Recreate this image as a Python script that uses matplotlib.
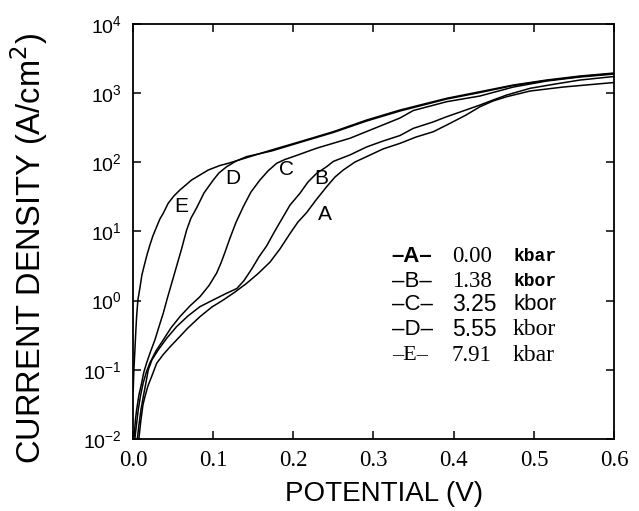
import numpy as np
import matplotlib.pyplot as plt
from matplotlib.ticker import LogLocator, NullLocator, FormatStrFormatter

# curves: potential (V) vs current density (A/cm^2)
xA = [0.0075, 0.0100, 0.0125, 0.0150, 0.0187, 0.0233, 0.0296, 0.0374, 0.0462, 0.0545, 0.0686,
      0.0836, 0.0985, 0.1126, 0.1272, 0.1418, 0.1559, 0.1709, 0.1834, 0.1958, 0.2058, 0.2167,
      0.2283, 0.2416, 0.2520, 0.2623, 0.2769, 0.2915, 0.3118, 0.3330, 0.3530, 0.3746, 0.3954,
      0.4154, 0.4328, 0.4491, 0.4661, 0.4952, 0.5367, 0.5784, 0.600]
jA = [0.0103, 0.0188, 0.0310, 0.0409, 0.0583, 0.0796, 0.124, 0.164, 0.214, 0.270, 0.403,
      0.586, 0.809, 1.02, 1.33, 1.78, 2.45, 3.6, 5.6, 9.3, 13.7, 18.8,
      28.5, 44.4, 61.3, 77.4, 101, 121, 156, 188, 232, 277, 366,
      483, 637, 771, 889, 1074, 1227, 1355, 1426]

xB = [0.0056, 0.0075, 0.0100, 0.0131, 0.0162, 0.0191, 0.0237, 0.0316, 0.0424, 0.0545, 0.0686,
      0.0836, 0.0998, 0.1169, 0.1297, 0.1385, 0.1484, 0.1572, 0.1668, 0.1771, 0.1875, 0.1958,
      0.2083, 0.2183, 0.2291, 0.2416, 0.2498, 0.2707, 0.2915, 0.3118, 0.3330, 0.3496, 0.3742,
      0.3913, 0.4116, 0.4328, 0.4491, 0.4661, 0.4952, 0.5264, 0.5576, 0.600]
jB = [0.0103, 0.0159, 0.0262, 0.0418, 0.0646, 0.0995, 0.139, 0.194, 0.288, 0.421, 0.600,
      0.818, 1.02, 1.28, 1.50, 1.95, 2.9, 4.3, 6.2, 10.2, 16.4, 24.0,
      35.7, 51.9, 69.4, 86.5, 103, 128, 167, 203, 244, 310, 383,
      457, 552, 674, 796, 940, 1175, 1355, 1549, 1742]

xC = [0.0025, 0.0044, 0.0066, 0.0094, 0.0128, 0.0168, 0.0212, 0.0287, 0.0378, 0.0474, 0.0586,
      0.0711, 0.0836, 0.0948, 0.1044, 0.1098, 0.1148, 0.1210, 0.1285, 0.1376, 0.1472, 0.1584,
      0.1684, 0.1792, 0.1896, 0.2000, 0.2291, 0.2707, 0.3330, 0.3496, 0.3913, 0.4328, 0.4744,
      0.5160, 0.5576, 0.600]
jC = [0.0103, 0.0159, 0.0262, 0.0418, 0.0646, 0.0931, 0.126, 0.187, 0.270, 0.403, 0.586,
      0.838, 1.14, 1.65, 2.5, 3.5, 5.0, 8.0, 13.5, 22.8, 37.2, 55.5,
      74.9, 96.8, 110, 121, 160, 223, 437, 561, 753, 910, 1227,
      1500, 1714, 1892]

xD = [0.0016, 0.0031, 0.0046, 0.0075, 0.0109, 0.0137, 0.0171, 0.0218, 0.0274, 0.0324, 0.0378,
      0.0430, 0.0483, 0.0524, 0.0565, 0.0607, 0.0636, 0.0670, 0.0723, 0.0795, 0.0886, 0.1002,
      0.1073, 0.1169, 0.1285, 0.1418, 0.1730, 0.2083, 0.2498, 0.2915, 0.3330, 0.3913, 0.4328,
      0.4744, 0.5160, 0.5576, 0.600]
jD = [0.0108, 0.0188, 0.0262, 0.0432, 0.0646, 0.0931, 0.126, 0.181, 0.270, 0.416, 0.656,
      1.09, 1.78, 2.6, 3.8, 5.6, 7.5, 10.5, 15.5, 22.0, 36.0, 55.5,
      70.2, 86.5, 104, 121, 146, 194, 270, 396, 552, 823, 1021,
      1291, 1524, 1742, 1923]

xE = [0.0004, 0.0012, 0.0025, 0.0037, 0.0046, 0.0062, 0.0087, 0.0112, 0.0143, 0.0175, 0.0212,
      0.0249, 0.0296, 0.0337, 0.0378, 0.0440, 0.0511, 0.0586, 0.0732, 0.0836, 0.0939, 0.1085,
      0.1189, 0.1481, 0.1730, 0.2083, 0.2498, 0.2915, 0.3330, 0.3913, 0.4328, 0.4744, 0.5160,
      0.5576, 0.600]
jE = [0.051, 0.0995, 0.194, 0.377, 0.586, 1.02, 1.52, 2.35, 3.28, 4.57, 6.38,
      8.61, 11.7, 15.2, 18.3, 25.6, 32.6, 39.8, 55.5, 65.6, 77.4, 90.0,
      96.8, 123, 151, 199, 277, 409, 570, 843, 1050, 1312, 1549,
      1770, 1955]

curve_names = ['A', 'B', 'C', 'D', 'E']
label_x = [0.2395, 0.2354, 0.1917, 0.125, 0.0607]
label_y = [17.4, 58.7, 77.5, 58.7, 22.8]

pressures = ['0.00', '1.38', '3.25', '5.55', '7.91']
units = ['kbar', 'kbor', 'kbor', 'kbor', 'kbar']

plt.rcParams['font.family'] = 'Liberation Sans'

fig = plt.figure(figsize=(6.39, 5.11), dpi=100)
ax = fig.add_axes([0.208, 0.141, 0.753, 0.812])

for xs, js in zip([xA, xB, xC, xD, xE], [jA, jB, jC, jD, jE]):
    ax.semilogy(xs, js, color='black', lw=1.1)

for name, lx, ly in zip(curve_names, label_x, label_y):
    ax.text(lx, ly, name, fontsize=15, ha='center', va='center', family='Liberation Sans')

# legend block, mixed fonts as in the scanned figure
row_y = [0.439, 0.379, 0.323, 0.263, 0.202]
tag_fonts = [('Liberation Sans', 'bold'), ('Liberation Sans', 'normal'), ('Liberation Sans', 'normal'),
             ('Liberation Sans', 'normal'), ('Liberation Serif', 'normal')]
num_fonts = ['Liberation Serif', 'Liberation Serif', 'Liberation Sans', 'Liberation Sans', 'Liberation Serif']
unit_fonts = [('Liberation Mono', 'bold', 13), ('Liberation Mono', 'bold', 13), ('Liberation Sans', 'normal', 16),
              ('Liberation Serif', 'normal', 17), ('Liberation Serif', 'normal', 17)]
for i in range(5):
    ax.text(0.538, row_y[i], '\u2013' + curve_names[i] + '\u2013', transform=ax.transAxes,
            fontsize=16, va='center', family=tag_fonts[i][0], weight=tag_fonts[i][1])
    ax.text(0.6625, row_y[i], pressures[i], transform=ax.transAxes,
            fontsize=16.5, va='center', family=num_fonts[i])
    ax.text(0.79, row_y[i], units[i], transform=ax.transAxes,
            fontsize=unit_fonts[i][2], va='center', family=unit_fonts[i][0], weight=unit_fonts[i][1])

ax.set_xlim(0.0, 0.6)
ax.set_ylim(1e-2, 1e4)
ax.set_xticks(np.arange(0.0, 0.61, 0.1))
ax.xaxis.set_major_formatter(FormatStrFormatter('%.1f'))
ax.yaxis.set_major_locator(LogLocator(base=10, numticks=10))
ax.yaxis.set_minor_locator(NullLocator())
ax.tick_params(direction='in', length=6, width=1.1, top=True, right=True)
ax.tick_params(axis='y', labelsize=14, pad=8)
ax.tick_params(axis='x', labelsize=16.5, pad=8)
for lab in ax.get_xticklabels():
    lab.set_family('Liberation Serif')
for s in ax.spines.values():
    s.set_linewidth(1.3)

ax.set_xlabel('POTENTIAL (V)', fontsize=20)
ax.set_ylabel('CURRENT DENSITY (A/cm$^2$)', fontsize=23.5)
ax.xaxis.set_label_coords(0.522, -0.102)
ax.yaxis.set_label_coords(-0.172, 0.458)

fig.savefig('out.png', dpi=100)
